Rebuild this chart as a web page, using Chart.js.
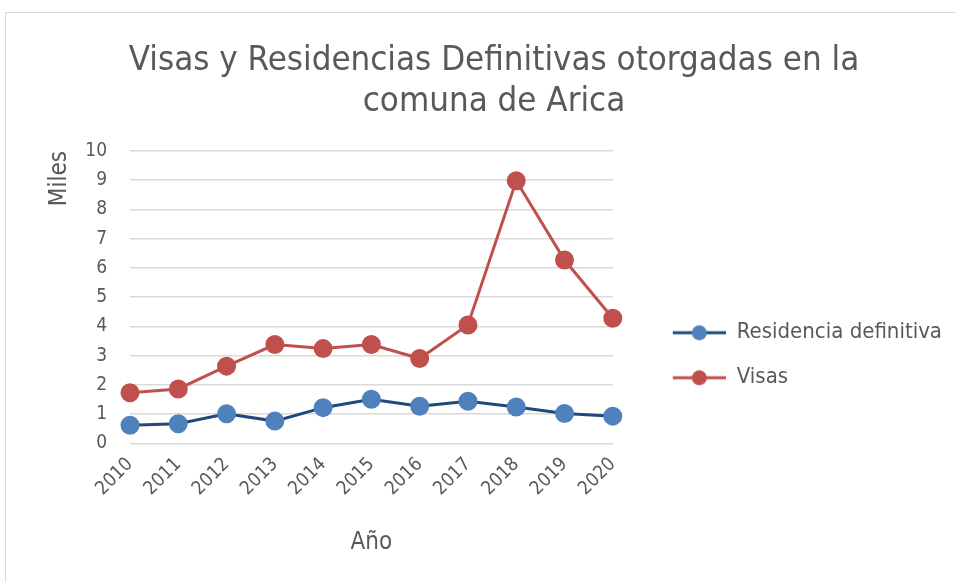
<!DOCTYPE html>
<html>
<head>
<meta charset="utf-8">
<script src="https://cdn.jsdelivr.net/npm/chart.js@4"></script>
<style>
  body { margin: 0; background: #fff; }
  #frame { position: absolute; left: 5px; top: 12px; width: 1000px; height: 620px; border: 1px solid #d9d9d9; }
  #wrap { position: absolute; left: 0; top: 0; width: 956px; height: 582px; }
</style>
</head>
<body>
<div id="frame"></div>
<div id="wrap"><canvas id="chart" width="956" height="582"></canvas></div>
<script>
const years = ['2010', '2011', '2012', '2013', '2014', '2015', '2016', '2017', '2018', '2019', '2020'];
const residencia = [0.62, 0.67, 1.01, 0.76, 1.22, 1.51, 1.27, 1.44, 1.24, 1.02, 0.93];
const visas = [1.73, 1.86, 2.64, 3.38, 3.24, 3.38, 2.90, 4.05, 8.98, 6.27, 4.28];
const yTicks = [0, 1, 2, 3, 4, 5, 6, 7, 8, 9, 10];

const textColor = '#595959';
const font = "'DejaVu Sans Condensed', 'Noto Sans', sans-serif";

// legend sample: short line with a round marker on it (left part left blank as a gap)
const legendSample = (lineColor, dotColor) => {
  const c = document.createElement('canvas');
  c.width = 90;
  c.height = 18;
  const g = c.getContext('2d');
  g.strokeStyle = lineColor;
  g.lineWidth = 3;
  g.beginPath();
  g.moveTo(37, 9);
  g.lineTo(90, 9);
  g.stroke();
  g.fillStyle = dotColor;
  g.beginPath();
  g.arc(63.5, 9, 7.5, 0, Math.PI * 2);
  g.fill();
  return c;
};

const samples = [legendSample('#1f497d', '#4f81bd'), legendSample('#c0504d', '#c0504d')];

const ctx = document.getElementById('chart').getContext('2d');
new Chart(ctx, {
  type: 'line',
  data: {
    labels: years,
    datasets: [
      {
        label: 'Residencia definitiva',
        data: residencia,
        borderColor: '#1f497d',
        backgroundColor: '#4f81bd',
        pointBackgroundColor: '#4f81bd',
        pointBorderColor: '#4f81bd',
        borderWidth: 3,
        pointRadius: 8,
        pointHoverRadius: 8,
      },
      {
        label: 'Visas',
        data: visas,
        borderColor: '#c0504d',
        backgroundColor: '#c0504d',
        pointBackgroundColor: '#c0504d',
        pointBorderColor: '#c0504d',
        borderWidth: 3,
        pointRadius: 8,
        pointHoverRadius: 8,
      },
    ],
  },
  options: {
    responsive: false,
    animation: false,
    layout: { padding: { left: 36, right: 4, top: 41, bottom: 21 } },
    plugins: {
      title: {
        display: true,
        text: ['Visas y Residencias Definitivas otorgadas en la', 'comuna de Arica'],
        color: textColor,
        font: { family: font, size: 34.6, weight: 'normal', lineHeight: 1.17 },
        padding: { top: 0, bottom: 29 },
      },
      legend: {
        position: 'right',
        align: 'center',
        maxWidth: 400,
        title: {
          display: true,
          text: ' ',
          font: { family: font, size: 12 },
          padding: { top: 47, bottom: 47 },
        },
        labels: {
          color: textColor,
          font: { family: font, size: 22 },
          usePointStyle: true,
          pointStyleWidth: 90,
          padding: 23,
          generateLabels: (chart) =>
            Chart.defaults.plugins.legend.labels.generateLabels(chart).map((item, i) => ({
              ...item,
              pointStyle: samples[i],
            })),
        },
      },
      tooltip: { enabled: false },
    },
    scales: {
      x: {
        offset: false,
        grid: { display: false, drawTicks: false },
        border: { display: false },
        ticks: {
          color: textColor,
          font: { family: font, size: 19 },
          maxRotation: 45,
          minRotation: 45,
          padding: 10,
        },
        title: {
          display: true,
          text: 'Año',
          color: textColor,
          font: { family: font, size: 24 },
          padding: { top: 18 },
        },
      },
      y: {
        min: 0,
        max: 10,
        afterBuildTicks: (axis) => {
          axis.ticks = yTicks.map((v) => ({ value: v }));
        },
        afterFit: (axis) => {
          axis.width = 94;
        },
        grid: { color: '#d9d9d9', lineWidth: 1.5, drawTicks: false },
        border: { display: false },
        ticks: {
          color: textColor,
          font: { family: font, size: 19 },
          padding: 23,
        },
        title: {
          display: true,
          text: 'Miles',
          align: 'end',
          color: textColor,
          font: { family: font, size: 24 },
          padding: { top: 9, bottom: 0 },
        },
      },
    },
  },
});
</script>
</body>
</html>
